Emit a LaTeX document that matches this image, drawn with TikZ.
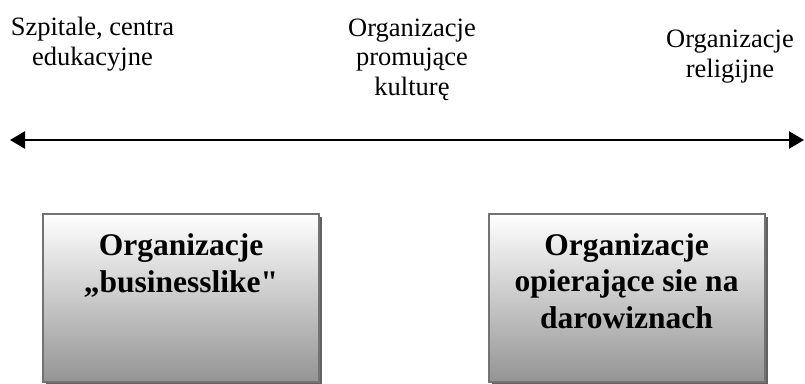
\documentclass[tikz,border=0pt]{standalone}
\usepackage{fontspec}
\setmainfont{Liberation Serif}[Ligatures=TeXOff]
\usetikzlibrary{arrows.meta,shadows}
\begin{document}
\begin{tikzpicture}[x=1bp,y=-1bp,
  lbl/.style={anchor=base,align=center,inner sep=0pt,font=\fontsize{26.5bp}{29.5bp}\selectfont},
  boxtxt/.style={anchor=base,align=center,inner sep=0pt,font=\fontsize{31.5bp}{36.5bp}\selectfont\bfseries},
  orgbox/.style={draw=black!55,line width=2bp,minimum width=276bp,minimum height=168bp,inner sep=0pt,
    top color=white,bottom color=black!42,
    drop shadow={shadow xshift=3bp,shadow yshift=-3bp,fill=black!62,opacity=1}},
  axis/.style={line width=2.5bp,{Triangle[length=15bp,width=17bp]}-{Triangle[length=15bp,width=17bp]}}]
\useasboundingbox (0,0) rectangle (805,383);
% top labels (base = last line)
\node[lbl] (t1) at (92.5,65) {Szpitale, centra\\edukacyjne};
\node[lbl] (t2) at (412,95) {Organizacje\\promujące\\kulturę};
\node[lbl] (t3) at (730,77) {Organizacje\\religijne};
% axis
\coordinate (L) at (10,140);
\coordinate (R) at (804,140);
\draw[axis] (L) -- (R);
% boxes
\node[orgbox] (b1) at (181,298) {};
\node[orgbox] (b2) at (626.5,298) {};
\node[boxtxt] (b1t) at (181,292) {Organizacje\\„businesslike"};
\node[boxtxt] (b2t) at (626.5,328) {Organizacje\\opierające sie na\\darowiznach};
\end{tikzpicture}
\end{document}
